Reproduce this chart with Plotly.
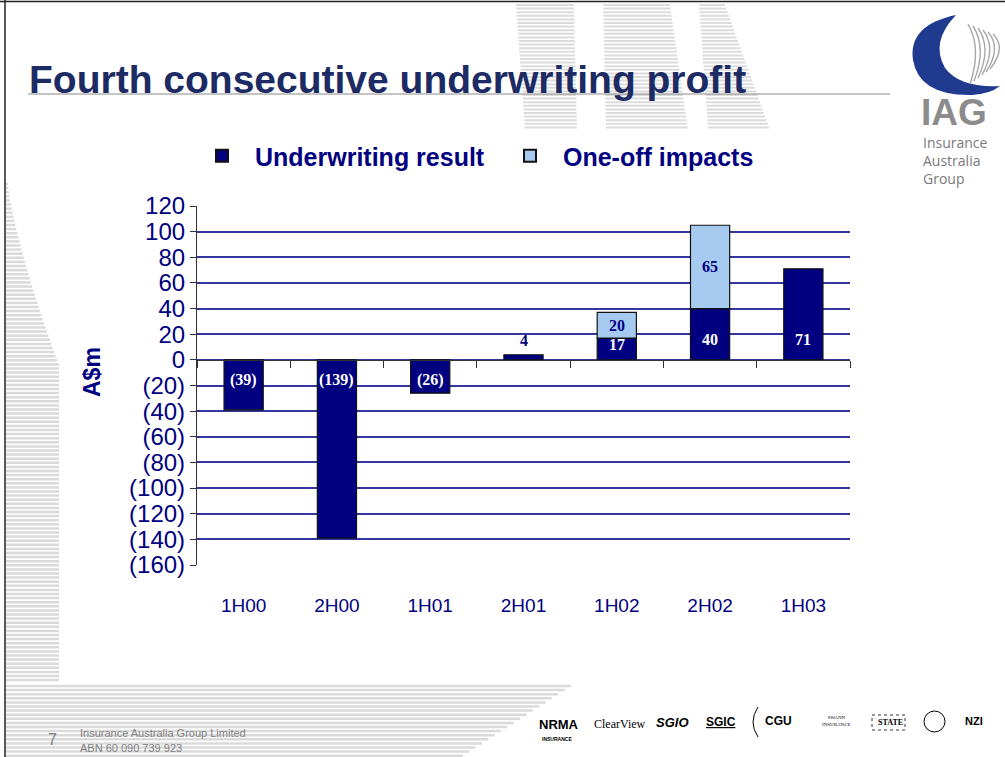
import plotly.graph_objects as go

# ---------------- data ----------------
categories = ["1H00", "2H00", "1H01", "2H01", "1H02", "2H02", "1H03"]
underwriting = [-39, -139, -26, 4, 17, 40, 71]
one_off = [None, None, None, None, 20, 65, None]
y_tickvals = [120, 100, 80, 60, 40, 20, 0, -20, -40, -60, -80, -100, -120, -140, -160]
y_ticktext = ["120", "100", "80", "60", "40", "20", "0", "(20)", "(40)", "(60)", "(80)",
              "(100)", "(120)", "(140)", "(160)"]
series_names = ["Underwriting result", "One-off impacts"]

# ---------------- layout helpers ----------------
W, H = 1005, 757
L, R, T, B = 197, 850, 206, 565
YMIN, YMAX = -160, 120
NAVY = "#000080"
LIGHT = "#a6caf0"
GRID = "#3535a0"
DARKLINE = "#333333"
STRIPE = "#dadada"
SANS = "Liberation Sans, Arial"


def px(x):
    return (x - L) / (R - L)


def py(y):
    return (B - y) / (B - T)


def fmt(v):
    return f"({abs(v)})" if v < 0 else str(v)


fig = go.Figure()
fig.add_trace(go.Bar(
    x=categories, y=underwriting, name=series_names[0], width=0.42,
    marker=dict(color=NAVY, line=dict(color="#111111", width=1.2)),
    hoverinfo="x+y",
))
fig.add_trace(go.Bar(
    x=categories, y=one_off, name=series_names[1], width=0.42,
    marker=dict(color=LIGHT, line=dict(color="#111111", width=1.2)),
    hoverinfo="x+y",
))
# invisible trace carrying the zero-line axis with category boundary ticks
fig.add_trace(go.Scatter(x=categories, y=[0] * len(categories), xaxis="x2", mode="none",
                         showlegend=False, hoverinfo="skip"))

annotations = []
label_font = dict(family="Liberation Serif, Times New Roman, serif", size=16)
for c, v, o in zip(categories, underwriting, one_off):
    sign = 1 if v >= 0 else -1
    if abs(v) < 10:
        ly, col = v + 11, NAVY
    else:
        ly, col = sign * min(16, abs(v) * 0.7), "white"
    annotations.append(dict(x=c, y=ly, xref="x", yref="y", text=f"<b>{fmt(v)}</b>",
                            showarrow=False, font=dict(color=col, **label_font)))
    if o:
        annotations.append(dict(x=c, y=v + o / 2, xref="x", yref="y", text=f"<b>{fmt(o)}</b>",
                                showarrow=False, font=dict(color=NAVY, **label_font)))


def note(x, y, text, size, color, family=SANS, xanchor="left", **kw):
    annotations.append(dict(x=px(x), y=py(y), xref="paper", yref="paper", text=text,
                            xanchor=xanchor, yanchor="middle", showarrow=False,
                            font=dict(family=family, size=size, color=color), **kw))


# y-axis title
note(92, 372, "<b>A$m</b>", 23, NAVY, xanchor="center", textangle=-90)
# slide title
note(27, 79, "<b>Fourth consecutive underwriting profit</b>", 39, "#1c2b63")
# IAG logo text
note(919, 112, "<b>IAG</b>", 37, "#8c8c8c", height=32)
note(921, 161, "Insurance<br>Australia<br>Group", 14, "#7a7a7a",
     family="Open Sans, Liberation Sans", align="left")
# footer
note(46, 739, "7", 16, "#808080")
note(78, 733, "Insurance Australia Group Limited", 11, "#808080")
note(78, 748, "ABN 60 090 739 923", 11, "#808080")
# bottom brand logos (text approximations)
brands = [
    (537, 724, "<b>NRMA</b>", SANS, 13, "#000"),
    (540, 739, "<b>INSURANCE</b>", SANS, 5, "#000"),
    (592, 724, "ClearView", "Liberation Serif", 12, "#000"),
    (654, 722, "<b><i>SGIO</i></b>", SANS, 13, "#000"),
    (704, 722, "<b><u>SGIC</u></b>", SANS, 12, "#000"),
    (763, 721, "<b>CGU</b>", SANS, 12, "#000"),
    (820, 721, "SWANN<br>INSURANCE", "Liberation Serif", 5, "#000"),
    (876, 722, "<b>STATE</b>", "Liberation Serif", 8, "#000"),
    (963, 721, "<b>NZI</b>", SANS, 11, "#000"),
]
for bx, by, bt, bf, bs, bc in brands:
    note(bx, by, bt, bs, bc, family=bf)

# ---------------- decorative shapes ----------------
shapes = []


def hline(x0, x1, y, color, width=1.0, layer="below"):
    shapes.append(dict(type="line", xref="paper", yref="paper", x0=px(x0), x1=px(x1),
                       y0=py(y), y1=py(y), line=dict(color=color, width=width), layer=layer))


def vline(x, y0, y1, color, width=1.0, layer="below"):
    shapes.append(dict(type="line", xref="paper", yref="paper", x0=px(x), x1=px(x),
                       y0=py(y0), y1=py(y1), line=dict(color=color, width=width), layer=layer))


# watermark stripes behind title
y = 5
while y <= 130:
    f = (y - 5) / 125
    hline(516 + 9 * f, 574 + 3 * f, y, "#dcdcdc", 2)
    hline(603 + 3 * f, 670 + 18 * f, y, "#dcdcdc", 2)
    hline(699 + 9 * f, 725 + 45 * f, y, "#dcdcdc", 2)
    y += 3.6
# left band stripes (widening curve, then constant)
y = 184
while y <= 684:
    if y < 363:
        f = (y - 184) / 179
        w = 2 + 50 * f ** 1.3
    else:
        w = 53
    hline(6, 6 + w, y, STRIPE, 2.5)
    y += 4.1
# bottom band stripes with slanted right edge
y = 686
while y <= 756:
    hline(6, 571 - (y - 686) * 1.55, y, STRIPE, 2.5)
    y += 4.1
# title underline
hline(28, 890, 94, "#8a8a8a", 1.2)
# slide frame (top & left)
hline(0, 1005, 1.5, "#222222", 1.5, layer="above")
vline(5, 0, 757, "#222222", 1.5, layer="above")
# IAG crescent
pts = [(956, 15), (908, 25), (913, 60), (919, 96), (972, 95), (990, 94), (1000, 86),
       (960, 88), (945, 68), (930, 42), (956, 15)]
path = f"M {px(pts[0][0])},{py(pts[0][1])} "
for k in range(1, len(pts), 2):
    path += f"Q {px(pts[k][0])},{py(pts[k][1])} {px(pts[k+1][0])},{py(pts[k+1][1])} "
path += "Z"
shapes.append(dict(type="path", xref="paper", yref="paper", path=path,
                   fillcolor="#1f3a8f", line=dict(width=0)))
for k in range(6):
    x0 = 968 + k * 5
    shapes.append(dict(type="path", xref="paper", yref="paper",
                       path=(f"M {px(x0)},{py(24 + k * 2)} Q {px(x0 + 14)},{py(48)} "
                             f"{px(x0 + 2 - k)},{py(84 - k * 3)}"),
                       line=dict(color="#a8a8a8", width=1.4)))
# small emblems near bottom logos
shapes.append(dict(type="circle", xref="paper", yref="paper", x0=px(924), x1=px(945),
                   y0=py(711), y1=py(732), line=dict(color="#000", width=1)))
shapes.append(dict(type="rect", xref="paper", yref="paper", x0=px(872), x1=px(905),
                   y0=py(715), y1=py(730), line=dict(color="#000", width=0.8, dash="dot")))
shapes.append(dict(type="path", xref="paper", yref="paper",
                   path=f"M {px(758)},{py(707)} Q {px(748)},{py(722)} {px(758)},{py(737)}",
                   line=dict(color="#000", width=1)))

zero_pos = (0 - YMIN) / (YMAX - YMIN)

fig.update_layout(
    width=W, height=H,
    margin=dict(l=L, r=W - R, t=T, b=H - B, pad=0),
    paper_bgcolor="white", plot_bgcolor="white",
    barmode="relative",
    showlegend=True,
    legend=dict(orientation="h", x=px(189), y=py(156), xanchor="left", yanchor="middle",
                font=dict(family=SANS, size=25, color=NAVY, weight="bold"),
                bgcolor="rgba(0,0,0,0)", entrywidth=237, entrywidthmode="pixels",
                itemsizing="constant", itemwidth=56),
    xaxis=dict(type="category", categoryarray=categories, range=[-0.5, len(categories) - 0.5],
               showline=False, showgrid=False, zeroline=False, ticks="",
               tickfont=dict(family=SANS, size=19, color=NAVY),
               ticklabelstandoff=27),
    xaxis2=dict(type="category", categoryarray=categories, range=[-0.5, len(categories) - 0.5],
                overlaying="x", anchor="free", position=zero_pos, side="bottom",
                showline=True, linecolor=DARKLINE, linewidth=1.2,
                ticks="outside", tickson="boundaries", ticklen=7, tickcolor=DARKLINE, tickwidth=1.2,
                showticklabels=False, showgrid=False, zeroline=False),
    yaxis=dict(range=[YMIN, YMAX], tickvals=y_tickvals, ticktext=y_ticktext,
               showline=True, linecolor=DARKLINE, linewidth=1.2,
               ticks="outside", ticklen=6, tickcolor=DARKLINE, tickwidth=1.2,
               showgrid=True, gridcolor=GRID, gridwidth=1.5, zeroline=False,
               tickfont=dict(family=SANS, size=24, color=NAVY)),
    annotations=annotations,
    shapes=shapes,
)

fig.write_html("out.html", config={"displayModeBar": False},
               post_script="document.body.style.margin='0';")
